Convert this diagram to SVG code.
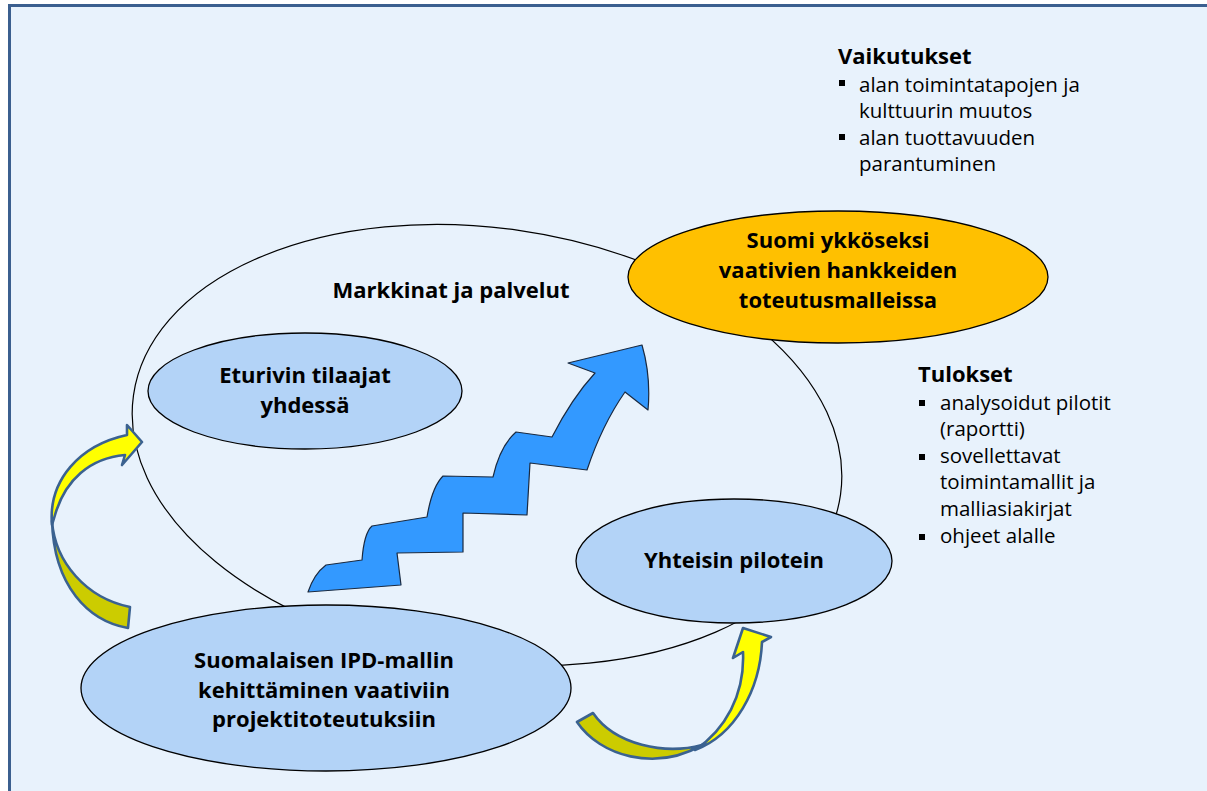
<svg xmlns="http://www.w3.org/2000/svg" width="1207" height="791" viewBox="0 0 1207 791">
<style>
.ell{stroke:#000;stroke-width:1.3}
.blue{fill:#B3D3F7}
.t{font-family:"Open Sans","Noto Sans","Liberation Sans",sans-serif;fill:#000}
.b{font-weight:bold;font-size:22px}
.r{font-size:20.5px}
.mid{text-anchor:middle}
.ya{stroke:#3B6290;stroke-width:2.6;stroke-linejoin:round}
.bul{fill:#000}
</style>
<rect x="0" y="0" width="1207" height="791" fill="#FFFFFF"/>
<rect x="9.5" y="5.5" width="1220" height="810" fill="#E8F2FC" stroke="#3B5F8F" stroke-width="3"/>

<g id="markkinat">
<ellipse cx="487" cy="445" rx="357" ry="217" transform="rotate(8 487 445)" fill="none" stroke="#000" stroke-width="1.2"/>
<text class="t b mid" x="451" y="298">Markkinat ja palvelut</text>
</g>

<g id="suomi">
<ellipse class="ell" cx="838" cy="277" rx="210" ry="66" fill="#FFC000"/>
<text class="t b mid" x="838" y="248">Suomi ykköseksi</text>
<text class="t b mid" x="838" y="278">vaativien hankkeiden</text>
<text class="t b mid" x="838" y="308">toteutusmalleissa</text>
</g>

<g id="eturivin">
<ellipse class="ell blue" cx="305" cy="391" rx="157" ry="58"/>
<text class="t b mid" x="305" y="383">Eturivin tilaajat</text>
<text class="t b mid" x="305" y="413">yhdessä</text>
</g>

<g id="yhteisin">
<ellipse class="ell blue" cx="734" cy="561" rx="158" ry="62"/>
<text class="t b mid" x="734" y="568">Yhteisin pilotein</text>
</g>

<g id="ipd">
<ellipse class="ell blue" cx="326" cy="688" rx="245" ry="83"/>
<text class="t b mid" x="324" y="668">Suomalaisen IPD-mallin</text>
<text class="t b mid" x="324" y="698">kehittäminen vaativiin</text>
<text class="t b mid" x="324" y="727">projektitoteutuksiin</text>
</g>

<g id="vaikutukset">
<text class="t b" x="838" y="64">Vaikutukset</text>
<rect class="bul" x="839" y="80" width="6" height="6"/>
<text class="t r" x="859" y="92">alan toimintatapojen ja</text>
<text class="t r" x="859" y="118">kulttuurin muutos</text>
<rect class="bul" x="839" y="134" width="6" height="6"/>
<text class="t r" x="859" y="145">alan tuottavuuden</text>
<text class="t r" x="859" y="171">parantuminen</text>
</g>

<g id="tulokset">
<text class="t b" x="918" y="382">Tulokset</text>
<rect class="bul" x="919" y="400" width="6" height="6"/>
<text class="t r" x="940" y="410">analysoidut pilotit</text>
<text class="t r" x="940" y="436">(raportti)</text>
<rect class="bul" x="919" y="454" width="6" height="6"/>
<text class="t r" x="940" y="463">sovellettavat</text>
<text class="t r" x="940" y="489">toimintamallit ja</text>
<text class="t r" x="940" y="516">malliasiakirjat</text>
<rect class="bul" x="919" y="534" width="6" height="6"/>
<text class="t r" x="940" y="543">ohjeet alalle</text>
</g>

<g id="connectors">
<path d="M308,592 Q314,574 326,565 L362,560 Q364,533 372,526 L427,517 Q432,487 443,476 L493,477 Q500,446 516,432 L552,437 Q572,398 595,373 L568,363 L642,345 Q651,376 648,410 L625,392 Q602,425 587,470 L530,463 L527,515 L463,513 L463,552 L397,553 L401,585 Z" fill="#3399FF" stroke="#1A2A40" stroke-width="1.2" stroke-linejoin="round"/>
<path class="ya" d="M130,607 L128,628 C 88,621 54,586 52,521 C 55,562 86,598 130,607 Z" fill="#CCCC00"/>
<path class="ya" d="M52,525 C 48,480 80,445 127,435 L127,425 L142,442 L122,465 L125,455 C 90,458 65,480 55,515 Z" fill="#FFFF00"/>
<path class="ya" d="M577,722 C 600,756 655,772 702,745 C 665,755 615,745 593,713 Z" fill="#CCCC00"/>
<path class="ya" d="M695,750 C 735,735 760,690 762,642 L771,637 L743,628 L733,658 L743,652 C 745,695 725,730 695,750 Z" fill="#FFFF00"/>
</g>
</svg>
